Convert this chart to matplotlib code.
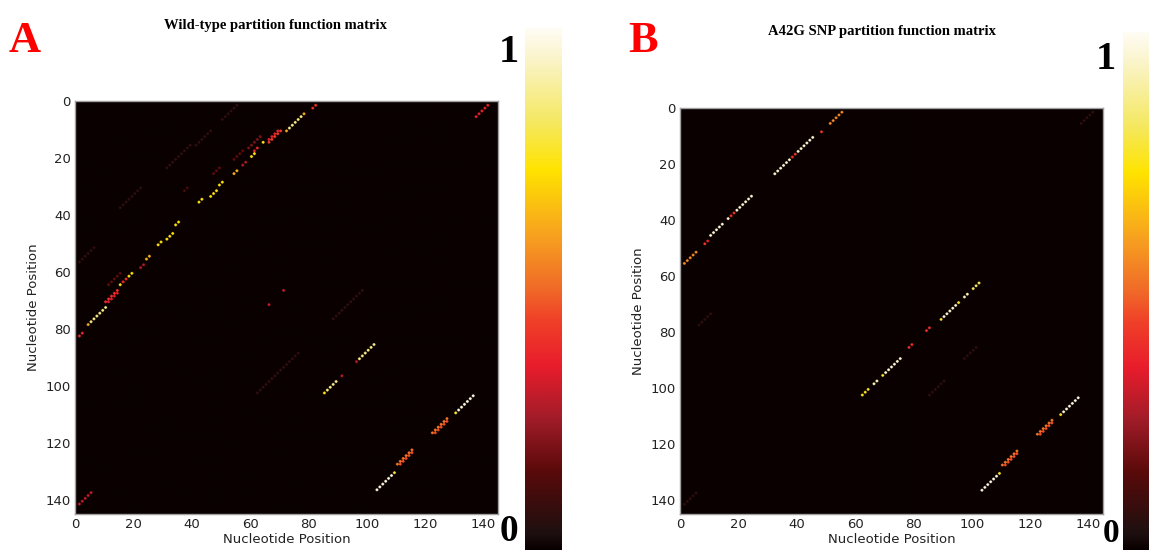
import matplotlib
matplotlib.use("Agg")
import matplotlib.pyplot as plt
import numpy as np
from matplotlib.colors import LinearSegmentedColormap

N = 145
ticks = [0, 20, 40, 60, 80, 100, 120, 140]

# helix segments: column and row of the lower-left cell, number of cells, probability
wt_col = [1, 4, 5, 10, 11, 15, 16, 18, 22, 24, 28, 31, 34, 42, 46, 49, 54, 57, 60, 61,
          64, 66, 66, 72, 73, 78, 81, 137, 66, 71, 85, 86, 91, 96, 97, 1,
          103, 109, 110, 111, 122, 123, 130, 131,
          62, 88, 1, 11, 15, 31, 37, 41, 47, 50, 54, 59]
wt_row = [82, 78, 77, 70, 70, 64, 63, 61, 58, 55, 50, 48, 43, 35, 33, 29, 25, 22, 19, 17,
          14, 14, 13, 10, 9, 4, 2, 5, 71, 66, 102, 101, 96, 91, 90, 141,
          136, 130, 127, 127, 116, 116, 109, 108,
          102, 76, 56, 64, 37, 23, 31, 15, 25, 6, 20, 16]
wt_len = [2, 1, 6, 5, 4, 1, 2, 2, 2, 2, 2, 3, 2, 2, 3, 2, 2, 2, 2, 2,
          1, 5, 4, 1, 5, 1, 2, 5, 1, 1, 1, 4, 1, 1, 6, 5,
          6, 1, 6, 5, 6, 5, 1, 6,
          15, 11, 6, 5, 8, 9, 2, 6, 3, 6, 4, 5]
wt_val = [0.38, 0.62, 0.86, 0.40, 0.34, 0.74, 0.38, 0.74, 0.26, 0.64, 0.74, 0.74, 0.74, 0.74, 0.74, 0.74, 0.64, 0.26, 0.74, 0.38,
          0.74, 0.42, 0.36, 0.62, 0.86, 0.62, 0.40, 0.36, 0.30, 0.30, 0.74, 0.86, 0.28, 0.28, 0.86, 0.30,
          0.97, 0.78, 0.52, 0.46, 0.52, 0.46, 0.78, 0.97,
          0.07, 0.07, 0.07, 0.16, 0.06, 0.07, 0.12, 0.07, 0.16, 0.07, 0.16, 0.20]

snp_col = [1, 8, 9, 10, 16, 17, 19, 20, 32, 37, 38, 40, 41, 48, 51,
           62, 66, 69, 70, 78, 84, 89, 90, 95, 97, 100,
           103, 109, 110, 111, 122, 123, 130, 131,
           1, 137, 85, 6, 97]
snp_row = [55, 48, 47, 45, 39, 38, 36, 35, 23, 18, 17, 15, 14, 8, 5,
           102, 98, 95, 94, 85, 79, 75, 74, 69, 67, 64,
           136, 130, 127, 127, 116, 116, 109, 108,
           141, 5, 102, 77, 89]
snp_len = [5, 1, 1, 5, 1, 2, 1, 5, 5, 1, 2, 1, 5, 1, 5,
           3, 2, 1, 6, 2, 2, 1, 5, 1, 2, 3,
           6, 1, 6, 5, 6, 5, 1, 6,
           5, 5, 6, 5, 5]
snp_val = [0.56, 0.42, 0.36, 0.95, 0.95, 0.40, 0.95, 0.95, 0.95, 0.95, 0.40, 0.95, 0.95, 0.42, 0.56,
           0.76, 0.92, 0.78, 0.95, 0.40, 0.40, 0.78, 0.95, 0.78, 0.92, 0.82,
           0.97, 0.78, 0.52, 0.46, 0.52, 0.46, 0.78, 0.97,
           0.07, 0.07, 0.06, 0.06, 0.06]

cmap = LinearSegmentedColormap.from_list("bpp", [
    (0.00, "#0a0000"), (0.03, "#1e1010"), (0.15, "#5a0a0a"), (0.25, "#a01c28"),
    (0.35, "#e81c2c"), (0.44, "#f04028"), (0.50, "#f06a28"), (0.60, "#f7a020"),
    (0.73, "#ffe400"), (0.82, "#f5e860"), (0.95, "#fbf5d0"), (1.00, "#fffcf4")])


def build_matrix(cols, rows, lens, vals):
    m = np.zeros((N, N))
    for c, r, n, v in zip(cols, rows, lens, vals):
        for k in range(n):
            if 0 <= r - k < N and 0 <= c + k < N:
                m[r - k, c + k] = max(m[r - k, c + k], v)
    return m


# draw every cell as a small round dot so helices look beaded
sub = 7
yy, xx = np.mgrid[0:sub, 0:sub]
disc = (((xx - 3) ** 2 + (yy - 3) ** 2) <= 3.4 ** 2).astype(float)

W, H = 1149, 550
fig = plt.figure(figsize=(W / 100, H / 100), dpi=100)


def px(x, y):
    return x / W, 1 - y / H


def heat_panel(rect, mat):
    ax = fig.add_axes(rect)
    ax.imshow(np.kron(mat, disc), cmap=cmap, vmin=0, vmax=1, extent=(0, N, N, 0), aspect="auto",
              interpolation="antialiased", interpolation_stage="rgba")
    ax.set_xticks(ticks)
    ax.set_yticks(ticks)
    ax.tick_params(length=0, pad=3, labelsize=9.5, colors="#222222")
    for s in ax.spines.values():
        s.set_color("#a0a0a0")
        s.set_linewidth(1)
    ax.set_xlabel("Nucleotide Position", fontsize=9.5, labelpad=1, color="#222222")
    ax.set_ylabel("Nucleotide Position", fontsize=9.5, labelpad=4, color="#222222")
    return ax


def bar_panel(rect):
    ax = fig.add_axes(rect)
    grad = np.linspace(0, 1, 256).reshape(-1, 1)
    ax.imshow(grad, cmap=cmap, aspect="auto", origin="lower", interpolation="bilinear")
    ax.axis("off")
    return ax


heat_panel([75 / W, 36 / H, 423 / W, 413 / H], build_matrix(wt_col, wt_row, wt_len, wt_val))
heat_panel([680 / W, 36 / H, 423 / W, 406 / H], build_matrix(snp_col, snp_row, snp_len, snp_val))
bar_panel([525 / W, 0, 37 / W, 522 / H])
bar_panel([1123 / W, 0, 37 / W, 518 / H])

serif = "Liberation Serif"
fig.text(*px(276, 26), "Wild-type partition function matrix", ha="center", va="center",
         family=serif, weight="bold", fontsize=10.5)
fig.text(*px(882, 32), "A42G SNP partition function matrix", ha="center", va="center",
         family=serif, weight="bold", fontsize=10.5)
fig.text(*px(9, 52), "A", color="red", family=serif, weight="bold", fontsize=32, va="baseline")
fig.text(*px(628, 52), "B", color="red", family=serif, weight="bold", fontsize=32, va="baseline")
fig.text(*px(509, 62), "1", ha="center", va="baseline", family=serif, weight="bold", fontsize=29)
fig.text(*px(1106, 69), "1", ha="center", va="baseline", family=serif, weight="bold", fontsize=29)
fig.text(*px(509, 549), "0", ha="center", va="bottom", family=serif, weight="bold", fontsize=27)
fig.text(*px(1111, 549), "0", ha="center", va="bottom", family=serif, weight="bold", fontsize=24)

plt.savefig("out.png", dpi=100)
